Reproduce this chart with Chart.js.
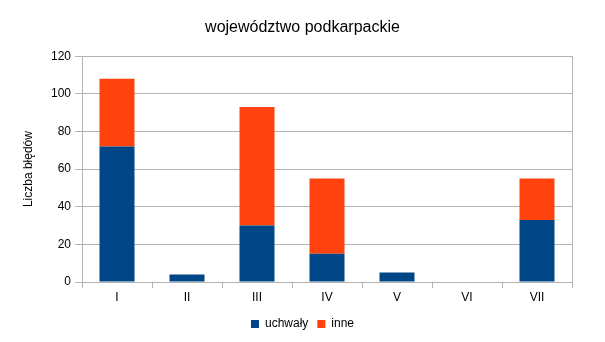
<!DOCTYPE html>
<html>
<head>
<meta charset="utf-8">
<script src="https://cdn.jsdelivr.net/npm/chart.js@4/dist/chart.umd.min.js"></script>
<style>
  html, body { margin: 0; padding: 0; background: #fff; }
  #wrap { width: 605px; height: 342px; }
</style>
</head>
<body>
<div id="wrap"><canvas id="chart" width="605" height="342"></canvas></div>
<script>
const categories = ['I', 'II', 'III', 'IV', 'V', 'VI', 'VII'];
const uchwaly = [72, 4, 30, 15, 5, 0, 33];
const inne = [36, 0, 63, 40, 0, 0, 22];

const gridColor = '#b3b3b3';
const font = { family: '"Liberation Sans", Arial, sans-serif', size: 12 };

Chart.defaults.font.family = font.family;
Chart.defaults.color = '#000';

const config = {
    type: 'bar',
    data: {
        labels: categories,
        datasets: [
            { label: 'uchwały', data: uchwaly, backgroundColor: '#004586', barPercentage: 0.5, categoryPercentage: 1 },
            { label: 'inne', data: inne, backgroundColor: '#ff420e', barPercentage: 0.5, categoryPercentage: 1 }
        ]
    },
    options: {
        responsive: false,
        animation: false,
        layout: { padding: { top: 0, left: 0, right: 0, bottom: 2 } },
        plugins: {
            title: {
                display: true,
                text: 'województwo podkarpackie',
                color: '#000',
                font: { size: 16, weight: 'normal' },
                padding: { top: 18, bottom: 19 }
            },
            legend: {
                position: 'bottom',
                labels: { boxWidth: 8, boxHeight: 8, font: font, padding: 9 }
            },
            tooltip: { enabled: false }
        },
        scales: {
            x: {
                stacked: true,
                grid: {
                    drawOnChartArea: false,
                    tickColor: gridColor,
                    tickLength: 6
                },
                border: { color: gridColor },
                ticks: { font: font, padding: 2 },
                afterFit: scale => { scale.height = 27; }
            },
            y: {
                stacked: true,
                min: 0,
                max: 120,
                ticks: { stepSize: 20, font: font, padding: 4 },
                grid: { color: gridColor, tickLength: 7 },
                border: { color: gridColor },
                title: {
                    display: true,
                    text: 'Liczba błędów',
                    font: font,
                    padding: { top: 21, bottom: 0 }
                },
                afterFit: scale => { scale.width = 82; }
            },
            // empty right axis: gives the plot its right border and margin
            yRight: {
                position: 'right',
                min: 0,
                max: 120,
                ticks: { display: false },
                grid: { drawOnChartArea: false, drawTicks: false },
                border: { color: gridColor },
                afterFit: scale => { scale.width = 33; }
            }
        }
    }
};

new Chart(document.getElementById('chart'), config);
</script>
</body>
</html>
